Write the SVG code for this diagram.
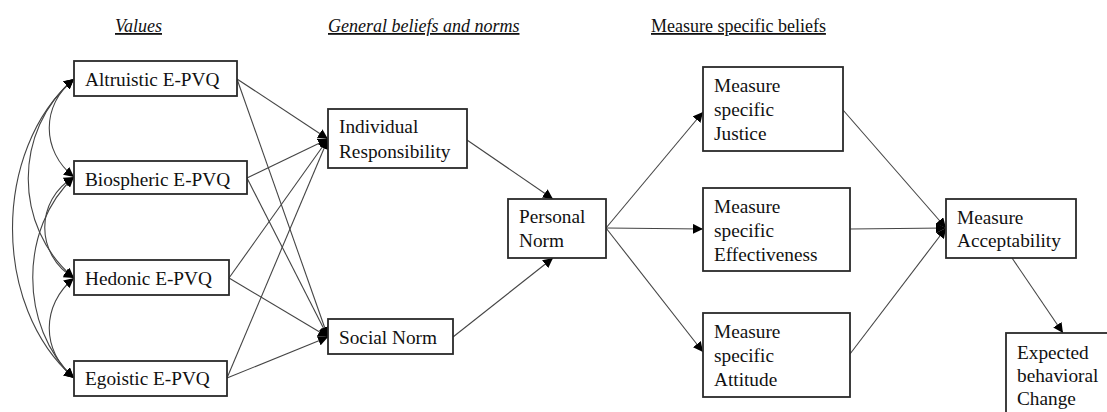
<svg xmlns="http://www.w3.org/2000/svg" width="1107" height="412" viewBox="0 0 1107 412">
  <style>
    .box { fill: #ffffff; stroke: #2a2a2a; stroke-width: 1.8; }
    .lbl { font-family: "Liberation Serif", "Times New Roman", serif; font-size: 19.3px; fill: #111111; }
    .hdr { font-family: "Liberation Serif", "Times New Roman", serif; font-size: 18px; fill: #111111; text-decoration: underline; }
    .it { font-style: italic; }
    .edge { fill: none; stroke: #444444; stroke-width: 1.1; marker-end: url(#arrow); }
    .cov { fill: none; stroke: #444444; stroke-width: 1.1; marker-start: url(#arrow); marker-end: url(#arrow); }
  </style>
  <defs>
    <marker id="arrow" viewBox="0 0 10 10" refX="10" refY="5" markerWidth="10" markerHeight="10" markerUnits="userSpaceOnUse" orient="auto-start-reverse">
      <path d="M0,0 L10,5 L0,10 z" fill="#000000"/>
    </marker>
  </defs>

  <rect width="1107" height="412" fill="#ffffff"/>

  <!-- column headings -->
  <g id="headings">
    <text class="hdr it" x="115" y="32">Values</text>
    <text class="hdr it" x="328" y="32">General beliefs and norms</text>
    <text class="hdr" x="651" y="32">Measure specific beliefs</text>
  </g>

  <!-- paths -->
  <g id="connectors">
    <!-- correlations among value orientations -->
    <path class="cov" d="M74,79 C41,105 41,151 74,177"/>
    <path class="cov" d="M74,79 C13,130 13,227 74,278"/>
    <path class="cov" d="M74,79 C-8,150 -8,307 74,378"/>
    <path class="cov" d="M74,177 C35,200 35,255 74,278"/>
    <path class="cov" d="M74,177 C19,228 19,327 74,378"/>
    <path class="cov" d="M74,278 C41,305 41,351 74,378"/>

    <!-- values to general beliefs -->
    <line class="edge" x1="237" y1="79" x2="328" y2="139"/>
    <line class="edge" x1="237" y1="79" x2="328" y2="337"/>
    <line class="edge" x1="247" y1="178" x2="328" y2="139"/>
    <line class="edge" x1="247" y1="178" x2="328" y2="337"/>
    <line class="edge" x1="229" y1="278" x2="328" y2="139"/>
    <line class="edge" x1="229" y1="278" x2="328" y2="337"/>
    <line class="edge" x1="227" y1="378" x2="328" y2="139"/>
    <line class="edge" x1="227" y1="378" x2="328" y2="337"/>

    <!-- general beliefs to personal norm -->
    <line class="edge" x1="467" y1="140" x2="553" y2="199"/>
    <line class="edge" x1="453" y1="337" x2="553" y2="258"/>

    <!-- personal norm to measure specific beliefs -->
    <line class="edge" x1="606" y1="228" x2="703" y2="112"/>
    <line class="edge" x1="606" y1="228" x2="703" y2="229"/>
    <line class="edge" x1="606" y1="228" x2="703" y2="352"/>

    <!-- measure specific beliefs to acceptability -->
    <line class="edge" x1="843" y1="110" x2="946" y2="228"/>
    <line class="edge" x1="850" y1="229" x2="946" y2="228"/>
    <line class="edge" x1="850" y1="354" x2="946" y2="228"/>

    <!-- acceptability to behaviour -->
    <line class="edge" x1="1012" y1="258" x2="1063" y2="333"/>
  </g>

  <g id="altruistic">
    <rect class="box" x="74" y="61" width="163" height="35"/>
    <text class="lbl" x="85" y="86">Altruistic E-PVQ</text>
  </g>
  <g id="biospheric">
    <rect class="box" x="74" y="161" width="173" height="33"/>
    <text class="lbl" x="85" y="186">Biospheric E-PVQ</text>
  </g>
  <g id="hedonic">
    <rect class="box" x="74" y="260" width="155" height="35"/>
    <text class="lbl" x="85" y="285">Hedonic E-PVQ</text>
  </g>
  <g id="egoistic">
    <rect class="box" x="74" y="361" width="153" height="35"/>
    <text class="lbl" x="85" y="385">Egoistic E-PVQ</text>
  </g>

  <g id="individual-responsibility">
    <rect class="box" x="328" y="109" width="139" height="59"/>
    <text class="lbl" x="339" y="133">Individual</text>
    <text class="lbl" x="339" y="158">Responsibility</text>
  </g>
  <g id="social-norm">
    <rect class="box" x="328" y="319" width="125" height="35"/>
    <text class="lbl" x="339" y="344">Social Norm</text>
  </g>
  <g id="personal-norm">
    <rect class="box" x="508" y="199" width="98" height="59"/>
    <text class="lbl" x="519" y="223">Personal</text>
    <text class="lbl" x="519" y="247">Norm</text>
  </g>

  <g id="justice">
    <rect class="box" x="703" y="67" width="140" height="84"/>
    <text class="lbl" x="714" y="92">Measure</text>
    <text class="lbl" x="714" y="116">specific</text>
    <text class="lbl" x="714" y="140">Justice</text>
  </g>
  <g id="effectiveness">
    <rect class="box" x="703" y="188" width="147" height="83"/>
    <text class="lbl" x="714" y="213">Measure</text>
    <text class="lbl" x="714" y="237">specific</text>
    <text class="lbl" x="714" y="261">Effectiveness</text>
  </g>
  <g id="attitude">
    <rect class="box" x="703" y="313" width="147" height="84"/>
    <text class="lbl" x="714" y="338">Measure</text>
    <text class="lbl" x="714" y="362">specific</text>
    <text class="lbl" x="714" y="386">Attitude</text>
  </g>

  <g id="acceptability">
    <rect class="box" x="946" y="199" width="130" height="59"/>
    <text class="lbl" x="957" y="224">Measure</text>
    <text class="lbl" x="957" y="247">Acceptability</text>
  </g>
  <g id="behavioral-change">
    <rect class="box" x="1006" y="333" width="120" height="100"/>
    <text class="lbl" x="1017" y="359">Expected</text>
    <text class="lbl" x="1017" y="382">behavioral</text>
    <text class="lbl" x="1017" y="405">Change</text>
  </g>
</svg>
